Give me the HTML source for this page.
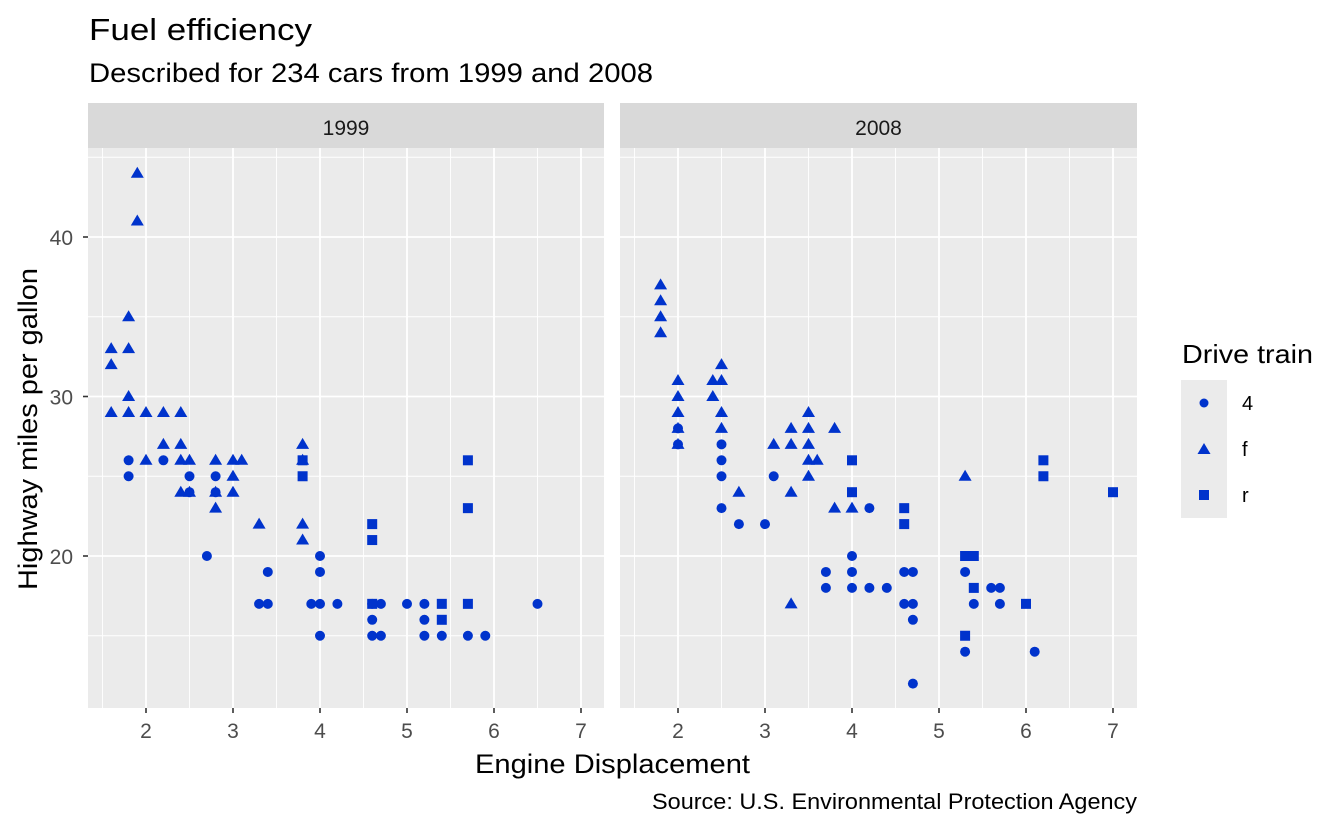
<!DOCTYPE html>
<html><head><meta charset="utf-8"><style>
html,body{margin:0;padding:0;background:#fff}
svg{display:block;font-family:"Liberation Sans",Arial,sans-serif}
</style></head><body>
<svg id="s" width="1344" height="830" viewBox="0 0 1344 830" xmlns="http://www.w3.org/2000/svg">
<rect width="1344" height="830" fill="#fff"/>
<text x="89" y="40" font-size="31" fill="#000" textLength="223" lengthAdjust="spacingAndGlyphs">Fuel efficiency</text>
<text x="89" y="82" font-size="27" fill="#000" textLength="564" lengthAdjust="spacingAndGlyphs">Described for 234 cars from 1999 and 2008</text>
<text x="652" y="809" font-size="22" fill="#000" textLength="485" lengthAdjust="spacingAndGlyphs">Source: U.S. Environmental Protection Agency</text>
<text x="475" y="773" font-size="27" fill="#000" textLength="275" lengthAdjust="spacingAndGlyphs">Engine Displacement</text>
<text transform="translate(37,590) rotate(-90)" font-size="27" fill="#000" textLength="322" lengthAdjust="spacingAndGlyphs">Highway miles per gallon</text>
<g id="g"></g>
<text x="1182" y="363" font-size="26" fill="#000" textLength="131" lengthAdjust="spacingAndGlyphs">Drive train</text>
<rect x="1181" y="380" width="46" height="138" fill="#ebebeb"/>
<circle cx="1204" cy="403" r="4.5" fill="#0033cc"/>
<polygon points="1204,443 1210.5,454 1197.5,454" fill="#0033cc"/>
<rect x="1199" y="490" width="10" height="10" fill="#0033cc"/>
<text x="1242" y="410" font-size="20" fill="#000">4</text>
<text x="1242" y="456" font-size="20" fill="#000">f</text>
<text x="1242" y="502" font-size="20" fill="#000">r</text>
</svg>
<script>
var g=document.getElementById('g'),h='';
var C='#0033cc';
function Y(v){return 556-(v-20)*15.95;}
var panels=[{x0:88,x1:604,b:146,lab:'1999'},{x0:620,x1:1137,b:678,lab:'2008'}];
var d99={f:[[1.6,33],[1.6,32],[1.6,29],[1.8,35],[1.8,33],[1.8,30],[1.8,29],[1.9,44],[1.9,41],[2.0,29],[2.0,26],[2.2,29],[2.2,27],[2.4,29],[2.4,27],[2.4,26],[2.4,24],[2.5,26],[2.5,24],[2.8,26],[2.8,24],[2.8,23],[3.0,26],[3.0,25],[3.0,24],[3.1,26],[3.3,22],[3.8,27],[3.8,26],[3.8,22],[3.8,21]],
c:[[1.8,26],[1.8,25],[2.2,26],[2.5,25],[2.5,24],[2.7,20],[2.8,25],[2.8,24],[3.3,17],[3.4,19],[3.4,17],[3.9,17],[4.0,20],[4.0,19],[4.0,17],[4.0,15],[4.2,17],[4.6,17],[4.6,16],[4.6,15],[4.7,17],[4.7,15],[5.0,17],[5.2,17],[5.2,16],[5.2,15],[5.4,15],[5.7,15],[5.9,15],[6.5,17]],
r:[[3.8,26],[3.8,25],[4.6,22],[4.6,21],[4.6,17],[5.4,17],[5.4,16],[5.7,26],[5.7,23],[5.7,17]]};
var d08={f:[[1.8,37],[1.8,36],[1.8,35],[1.8,34],[2.0,31],[2.0,30],[2.0,29],[2.0,28],[2.0,27],[2.4,31],[2.4,30],[2.5,32],[2.5,31],[2.5,29],[2.5,28],[2.7,24],[3.1,27],[3.3,28],[3.3,27],[3.3,24],[3.3,17],[3.5,29],[3.5,28],[3.5,27],[3.5,26],[3.5,25],[3.6,26],[3.8,28],[3.8,23],[4.0,23],[5.3,25]],
c:[[2.0,28],[2.0,27],[2.5,27],[2.5,26],[2.5,25],[2.5,23],[2.7,22],[3.0,22],[3.1,25],[3.7,19],[3.7,18],[4.0,20],[4.0,19],[4.0,18],[4.2,23],[4.2,18],[4.4,18],[4.6,19],[4.6,17],[4.7,19],[4.7,17],[4.7,16],[4.7,12],[5.3,19],[5.3,14],[5.4,17],[5.6,18],[5.7,18],[5.7,17],[6.1,14]],
r:[[4.0,26],[4.0,24],[4.6,23],[4.6,22],[5.3,20],[5.3,15],[5.4,20],[5.4,18],[6.0,17],[6.2,26],[6.2,25],[7.0,24]]};
[d99,d08].forEach(function(d,i){
 var p=panels[i];function X(v){return p.b+(v-2)*87;}
 h+='<rect x="'+p.x0+'" y="103" width="'+(p.x1-p.x0)+'" height="45" fill="#d9d9d9"/>';
 h+='<text x="'+((p.x0+p.x1)/2)+'" y="135" font-size="21" fill="#1a1a1a" text-anchor="middle">'+p.lab+'</text>';
 h+='<rect x="'+p.x0+'" y="148" width="'+(p.x1-p.x0)+'" height="560" fill="#ebebeb"/>';
 [15,25,35,45].forEach(function(v){h+='<line x1="'+p.x0+'" x2="'+p.x1+'" y1="'+Y(v)+'" y2="'+Y(v)+'" stroke="#fff" stroke-width="0.9"/>';});
 [1.5,2.5,3.5,4.5,5.5,6.5].forEach(function(v){h+='<line y1="148" y2="708" x1="'+X(v)+'" x2="'+X(v)+'" stroke="#fff" stroke-width="0.9"/>';});
 [20,30,40].forEach(function(v){h+='<line x1="'+p.x0+'" x2="'+p.x1+'" y1="'+Y(v)+'" y2="'+Y(v)+'" stroke="#fff" stroke-width="1.8"/>';});
 [2,3,4,5,6,7].forEach(function(v){h+='<line y1="148" y2="708" x1="'+X(v)+'" x2="'+X(v)+'" stroke="#fff" stroke-width="1.8"/>';
  h+='<line y1="708" y2="713" x1="'+X(v)+'" x2="'+X(v)+'" stroke="#333" stroke-width="1.6"/>';
  h+='<text x="'+X(v)+'" y="738" font-size="21" fill="#4d4d4d" text-anchor="middle">'+v+'</text>';});
 d.c.forEach(function(q){h+='<circle cx="'+X(q[0])+'" cy="'+Y(q[1])+'" r="5" fill="'+C+'"/>';});
 d.f.forEach(function(q){var x=X(q[0]),y=Y(q[1]);h+='<polygon points="'+x+','+(y-6.5)+' '+(x+6.5)+','+(y+4.5)+' '+(x-6.5)+','+(y+4.5)+'" fill="'+C+'"/>';});
 d.r.forEach(function(q){h+='<rect x="'+(X(q[0])-5)+'" y="'+(Y(q[1])-5)+'" width="10" height="10" fill="'+C+'"/>';});
});
[20,30,40].forEach(function(v){h+='<line x1="83" x2="88" y1="'+Y(v)+'" y2="'+Y(v)+'" stroke="#333" stroke-width="1.6"/>';
 h+='<text x="73" y="'+(Y(v)+8)+'" font-size="21" fill="#4d4d4d" text-anchor="end">'+v+'</text>';});
g.innerHTML=h;
</script>
</body></html>
